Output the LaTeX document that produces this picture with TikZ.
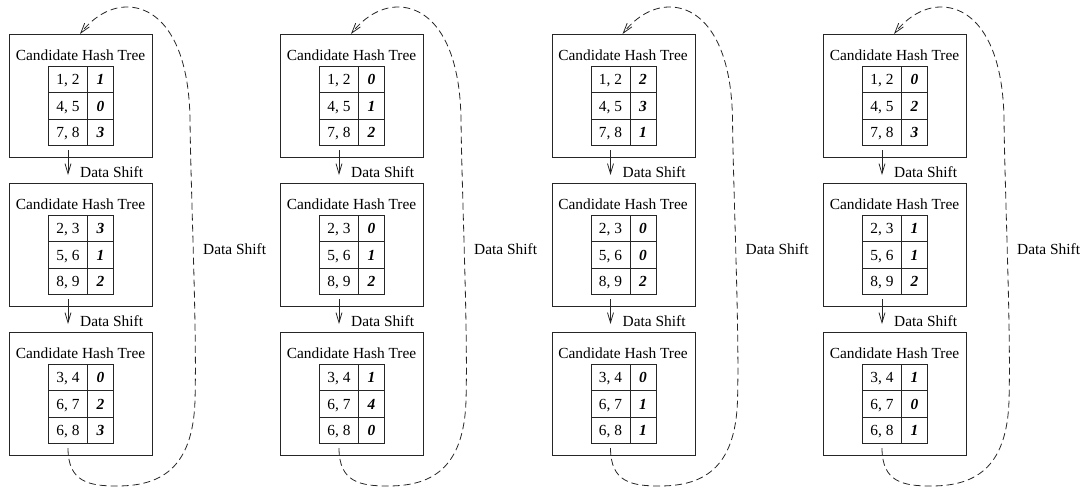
\documentclass[tikz,border=0pt]{standalone}
\usepackage{fontspec}
\setmainfont{Liberation Serif}
\usetikzlibrary{arrows.meta}

\newcommand\txtfont{\fontsize{15.4}{18}\selectfont}

\tikzset{
  x=1pt, y=-1pt,
  linecol/.style={draw=black!85, line width=0.9pt},
  treebox/.style={linecol, minimum width=143pt, minimum height=123pt,
    inner sep=0pt, anchor=north west},
  treetitle/.style={inner sep=0pt, font=\txtfont},
  cellbase/.style={linecol, minimum height=26.3pt, inner sep=0pt,
    anchor=north west, text height=10.5pt, text depth=0pt},
  keycell/.style={cellbase, minimum width=39pt, font=\txtfont},
  countcell/.style={cellbase, minimum width=26pt,
    font=\txtfont\bfseries\itshape},
  shiftarrow/.style={linecol, line width=0.8pt,
    -{Straight Barb[length=10pt,width=6pt]}},
  looparrow/.style={shiftarrow, dash pattern=on 7pt off 4pt},
  shiftlabel/.style={inner sep=0pt, anchor=west, font=\txtfont,
    text height=10.5pt, text depth=0pt}
}

% one candidate hash tree: name, left, top, three keys, three counts
\newcommand\hashtree[9]{%
  \node[treebox] (#1) at (#2,#3) {};
  \node[treetitle] (#1-t) at (#2+71.5,#3+21) {Candidate Hash Tree};
  \node[keycell]   (#1-k1) at (#2+39,#3+32)   {#4};
  \node[countcell] (#1-c1) at (#2+78,#3+32)   {#7};
  \node[keycell]   (#1-k2) at (#2+39,#3+58.3) {#5};
  \node[countcell] (#1-c2) at (#2+78,#3+58.3) {#8};
  \node[keycell]   (#1-k3) at (#2+39,#3+84.6) {#6};
  \node[countcell] (#1-c3) at (#2+78,#3+84.6) {#9};
  \coordinate (#1-out)   at (#2+59,#3+116);
  \coordinate (#1-in)    at (#2+59,#3-8);
  \coordinate (#1-entry) at (#2+71,#3);
}

% downward shift between two stacked trees: from, to, left, top of upper tree
\newcommand\downshift[4]{%
  \draw[shiftarrow] (#1-out) -- (#2-in);
  \node[shiftlabel] (#1-lab) at (#3+71,#4+138) {Data Shift};
}

% dashed return path from the bottom tree back to the top tree: left, from, to
\newcommand\loopback[3]{%
  \draw[looparrow] (#2-out)
    .. controls (#1+59,482) and (#1+80,486) .. (#1+108,486)
    .. controls (#1+150,486) and (#1+184,470) .. (#1+186,400)
    .. controls (#1+188,330) and (#1+182,200) .. (#1+181,120)
    .. controls (#1+180,40) and (#1+150,7) .. (#1+118,7)
    .. controls (#1+98,7) and (#1+82,20) .. (#3-entry);
  \node[shiftlabel] (#2-side) at (#1+194,249) {Data Shift};
}

\begin{document}
\begin{tikzpicture}
\useasboundingbox (0,0) rectangle (1083,492);

% column 1
\hashtree{aA}{9}{34}{1, 2}{4, 5}{7, 8}{1}{0}{3}
\hashtree{aB}{9}{183}{2, 3}{5, 6}{8, 9}{3}{1}{2}
\hashtree{aC}{9}{332}{3, 4}{6, 7}{6, 8}{0}{2}{3}
\downshift{aA}{aB}{9}{34}
\downshift{aB}{aC}{9}{183}
\loopback{9}{aC}{aA}

% column 2
\hashtree{bA}{280}{34}{1, 2}{4, 5}{7, 8}{0}{1}{2}
\hashtree{bB}{280}{183}{2, 3}{5, 6}{8, 9}{0}{1}{2}
\hashtree{bC}{280}{332}{3, 4}{6, 7}{6, 8}{1}{4}{0}
\downshift{bA}{bB}{280}{34}
\downshift{bB}{bC}{280}{183}
\loopback{280}{bC}{bA}

% column 3
\hashtree{cA}{551.5}{34}{1, 2}{4, 5}{7, 8}{2}{3}{1}
\hashtree{cB}{551.5}{183}{2, 3}{5, 6}{8, 9}{0}{0}{2}
\hashtree{cC}{551.5}{332}{3, 4}{6, 7}{6, 8}{0}{1}{1}
\downshift{cA}{cB}{551.5}{34}
\downshift{cB}{cC}{551.5}{183}
\loopback{551.5}{cC}{cA}

% column 4
\hashtree{dA}{823}{34}{1, 2}{4, 5}{7, 8}{0}{2}{3}
\hashtree{dB}{823}{183}{2, 3}{5, 6}{8, 9}{1}{1}{2}
\hashtree{dC}{823}{332}{3, 4}{6, 7}{6, 8}{1}{0}{1}
\downshift{dA}{dB}{823}{34}
\downshift{dB}{dC}{823}{183}
\loopback{823}{dC}{dA}
\end{tikzpicture}
\end{document}
